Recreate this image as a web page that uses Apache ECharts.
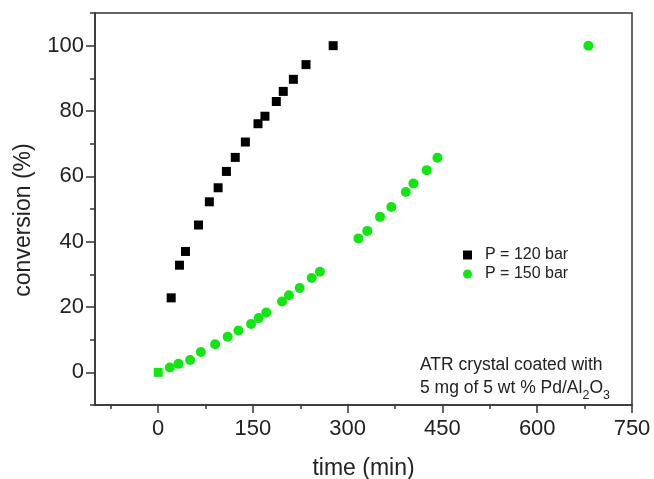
<!DOCTYPE html>
<html>
<head>
<meta charset="utf-8">
<script src="https://cdn.jsdelivr.net/npm/echarts@6/dist/echarts.min.js"></script>
<style>
	html, body { margin: 0; padding: 0; background: #fff; }
	#chart { width: 654px; height: 479px; }
</style>
</head>
<body>
<div id="chart"></div>
<script>
	// P = 120 bar (black squares)
	var timeP120 = [0, 20.6, 33.7, 43.2, 63.8, 81, 94.9, 108, 122, 138, 158, 169, 187, 198, 214, 234, 277];
	var convP120 = [0, 22.8, 32.8, 37.0, 45.1, 52.2, 56.5, 61.5, 65.8, 70.5, 76.1, 78.4, 82.9, 86.0, 89.7, 94.2, 100];
	// P = 150 bar (green circles)
	var timeP150 = [0, 18.4, 32.1, 50.5, 67.5, 90.1, 110, 127, 147, 159, 171, 196, 207, 224, 243, 256, 317, 331, 351, 369, 392, 404, 425, 442, 681];
	var convP150 = [0, 1.5, 2.6, 3.8, 6.2, 8.6, 10.9, 12.8, 14.8, 16.6, 18.3, 21.7, 23.6, 25.8, 28.9, 30.8, 41.0, 43.3, 47.6, 50.6, 55.2, 57.8, 61.9, 65.7, 100];
	// tick positions
	var xTicks = [0, 150, 300, 450, 600, 750];
	var xMinor = [-75, 75, 225, 375, 525, 675];
	var yTicks = [0, 20, 40, 60, 80, 100];
	var yMinor = [-10, 10, 30, 50, 70, 90, 110];
	var seriesNames = ['P = 120 bar', 'P = 150 bar'];

	var green = '#12e612';
	var ink = '#222';
	var font = 'Liberation Sans';
	var tickStyle = {color: '#333', width: 1.5};

	var pts120 = timeP120.map(function(t, i){
		// the origin point shows up green in the original
		if(i === 0) return {value: [t, convP120[i]], itemStyle: {color: green}};
		return [t, convP120[i]];
	});
	var pts150 = timeP150.map(function(t, i){ return [t, convP150[i]]; });

	var myChart = echarts.init(document.getElementById('chart'));
	myChart.setOption({
		backgroundColor: '#fff',
		animation: false,
		grid: {
			left: 95,
			right: 22,
			top: 13,
			bottom: 74,
			outerBoundsMode: 'none',
			containLabel: false,
			show: true,
			borderColor: '#333',
			borderWidth: 1.5
		},
		legend: {
			orient: 'vertical',
			left: 458,
			top: 242,
			itemWidth: 9,
			itemHeight: 9,
			itemGap: 3,
			textStyle: {
				fontFamily: font,
				fontSize: 16,
				color: ink,
				padding: [0, 0, 0, 8]
			},
			data: seriesNames
		},
		xAxis: [
			{
				// minor ticks + axis line
				type: 'value',
				min: -100,
				max: 750,
				name: 'time (min)',
				nameLocation: 'middle',
				nameGap: 52,
				nameTextStyle: {fontFamily: font, fontSize: 23, color: ink},
				axisLine: {show: true, onZero: false, lineStyle: tickStyle},
				axisTick: {show: true, inside: false, length: 4, lineStyle: tickStyle, customValues: xMinor},
				axisLabel: {show: false},
				splitLine: {show: false}
			},
			{
				// major ticks + labels
				type: 'value',
				position: 'bottom',
				min: -100,
				max: 750,
				axisLine: {show: false, onZero: false},
				axisTick: {show: true, inside: false, length: 8, lineStyle: tickStyle, customValues: xTicks},
				axisLabel: {
					show: true,
					margin: 13,
					fontFamily: font,
					fontSize: 22,
					color: ink,
					customValues: xTicks
				},
				splitLine: {show: false}
			}
		],
		yAxis: [
			{
				type: 'value',
				min: -10,
				max: 110,
				name: 'conversion (%)',
				nameLocation: 'middle',
				nameGap: 60,
				nameTextStyle: {fontFamily: font, fontSize: 23, color: ink, padding: [0, 22, 0, 0]},
				axisLine: {show: true, onZero: false, lineStyle: tickStyle},
				axisTick: {show: true, inside: false, length: 5, lineStyle: tickStyle, customValues: yMinor},
				axisLabel: {show: false},
				splitLine: {show: false}
			},
			{
				type: 'value',
				position: 'left',
				min: -10,
				max: 110,
				axisLine: {show: false, onZero: false},
				axisTick: {show: true, inside: false, length: 9, lineStyle: tickStyle, customValues: yTicks},
				axisLabel: {
					show: true,
					margin: 11,
					fontFamily: font,
					fontSize: 22,
					color: ink,
					customValues: yTicks
				},
				splitLine: {show: false}
			}
		],
		graphic: [
			{
				type: 'text',
				left: 420,
				top: 356,
				style: {
					text: '{n|ATR crystal coated with}\n{n|5 mg of 5 wt % Pd/Al}{s|2}{n|O}{s|3}',
					fill: ink,
					rich: {
						n: {fontFamily: font, fontSize: 17.5, lineHeight: 23, color: ink},
						s: {fontFamily: font, fontSize: 12.5, lineHeight: 23, color: ink, verticalAlign: 'bottom', padding: [0, 0, -3, 0]}
					}
				}
			}
		],
		series: [
			{
				name: seriesNames[0],
				type: 'scatter',
				xAxisIndex: 0,
				yAxisIndex: 0,
				symbol: 'rect',
				symbolSize: 9,
				itemStyle: {color: '#000', opacity: 1},
				data: pts120
			},
			{
				name: seriesNames[1],
				type: 'scatter',
				xAxisIndex: 0,
				yAxisIndex: 0,
				symbol: 'circle',
				symbolSize: 10,
				itemStyle: {color: green, opacity: 1},
				data: pts150.slice(1)
			}
		]
	});
</script>
</body>
</html>
